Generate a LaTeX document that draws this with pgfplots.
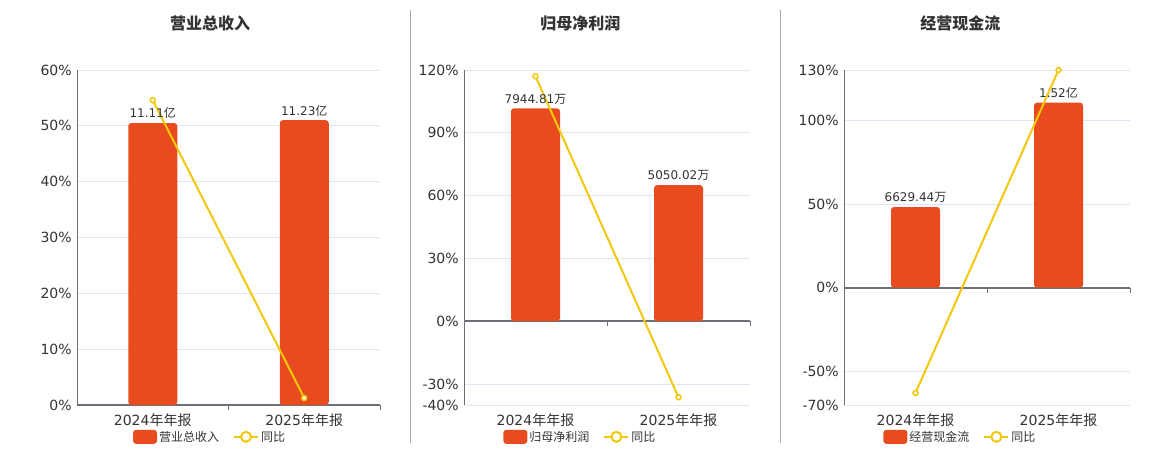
\documentclass[border=0pt]{standalone}
\usepackage{pgfplots}
\pgfplotsset{compat=1.18}
\usepackage{fontspec}
\setmainfont{DejaVu Sans}
\newfontfamily\cjk{Noto Sans CJK SC}
\definecolor{barc}{RGB}{232,76,30}
\definecolor{linec}{RGB}{242,200,12}
\definecolor{axc}{RGB}{110,112,121}
\definecolor{gridc}{RGB}{224,230,241}
\definecolor{txt}{RGB}{51,51,51}
\definecolor{sepc}{RGB}{170,170,170}
\pgfplotsset{
  common/.style={
    scale only axis, height=335bp, anchor=south west,
    xmin=-0.5, xmax=1.5, xtick={0,1},
    axis lines=left, axis line style={-, draw=axc, line width=1bp},
    x axis line style={draw=none},
    tick style={draw=none},
    ymajorgrids, grid style={draw=gridc, line width=0.8bp},
    tick label style={font=\fontsize{14bp}{16bp}\selectfont, text=txt},
    yticklabel style={inner sep=0pt, xshift=-3bp, anchor=east},
    xticklabel style={inner sep=0pt, anchor=north, yshift=-6bp},
    extra y ticks={0}, extra y tick labels={},
    extra y tick style={grid style={draw=axc, line width=2bp}},
    clip=false,
    title style={anchor=center, yshift=41bp, font=\cjk\bfseries\fontsize{16bp}{18bp}\selectfont, text=txt},
    legend style={anchor=center, draw=none, fill=none, legend columns=2,
      font=\cjk\fontsize{12bp}{14bp}\selectfont, text=txt, inner sep=0pt,
      /tikz/every even column/.append style={column sep=12bp}},
    legend cell align=left,
  },
  barsty/.style={ybar, bar width=49bp, fill=barc, draw=none, rounded corners=3bp,
    nodes near coords, point meta=explicit symbolic,
    nodes near coords style={font=\fontsize{12bp}{14bp}\selectfont, text=txt, anchor=south, inner sep=2bp, yshift=2bp},
    legend image code/.code={\fill[barc, rounded corners=3bp] (0bp,-7bp) rectangle (24bp,7bp);}},
  linesty/.style={linec, line width=2bp, sharp plot, mark=*, mark size=2.5bp,
    mark options={fill=white, draw=linec, line width=1.5bp},
    legend image code/.code={\draw[linec, line width=2bp] (0bp,0bp) -- (24bp,0bp);
      \draw[linec, line width=2bp, fill=white] (12bp,0bp) circle (5bp);}},
}
\begin{document}
\begin{tikzpicture}
\path (0,0) rectangle (1160bp,450bp);
\draw[sepc, line width=1bp] (410bp,7bp) -- (410bp,440bp);
\draw[sepc, line width=1bp] (780bp,7bp) -- (780bp,440bp);
% Panel 1
\begin{axis}[common, at={(77bp,45bp)}, width=303bp,
  ymin=0, ymax=60, ytick={0,10,20,30,40,50,60},
  yticklabels={0\%,10\%,20\%,30\%,40\%,50\%,60\%},
  xticklabels={{2024{\cjk 年年报}},{2025{\cjk 年年报}}},
  title={营业总收入}, title style={at={(0.439,1)}},
  legend style={at={(0.439,-0.095)}}]
\addplot[barsty] coordinates {(0,50.5) [11.11{\cjk 亿}] (1,51.0) [11.23{\cjk 亿}]};
\addlegendentry{营业总收入}
\addplot[linesty] coordinates {(0,54.6) (1,1.25)};
\addlegendentry{同比}
\draw[axc, line width=1bp] (axis cs:0.5,0) -- ++(0bp,-5bp);
\draw[axc, line width=1bp] (axis cs:1.5,0) -- ++(0bp,-5bp);
\end{axis}
% Panel 2
\begin{axis}[common, at={(464bp,45bp)}, width=286bp,
  ymin=-40, ymax=120, ytick={-40,-30,0,30,60,90,120},
  yticklabels={-40\%,-30\%,0\%,30\%,60\%,90\%,120\%},
  xticklabels={{2024{\cjk 年年报}},{2025{\cjk 年年报}}},
  title={归母净利润}, title style={at={(0.407,1)}},
  legend style={at={(0.407,-0.095)}}]
\addplot[barsty] coordinates {(0,101.7) [7944.81{\cjk 万}] (1,65.0) [5050.02{\cjk 万}]};
\addlegendentry{归母净利润}
\addplot[linesty] coordinates {(0,117.0) (1,-36.3)};
\addlegendentry{同比}
\draw[axc, line width=1bp] (axis cs:0.5,0) -- ++(0bp,-5bp);
\draw[axc, line width=1bp] (axis cs:1.5,0) -- ++(0bp,-5bp);
\end{axis}
% Panel 3
\begin{axis}[common, at={(844bp,45bp)}, width=286bp,
  ymin=-70, ymax=130, ytick={-70,-50,0,50,100,130},
  yticklabels={-70\%,-50\%,0\%,50\%,100\%,130\%},
  xticklabels={{2024{\cjk 年年报}},{2025{\cjk 年年报}}},
  title={经营现金流}, title style={at={(0.407,1)}},
  legend style={at={(0.407,-0.095)}}]
\addplot[barsty] coordinates {(0,48.2) [6629.44{\cjk 万}] (1,110.5) [1.52{\cjk 亿}]};
\addlegendentry{经营现金流}
\addplot[linesty] coordinates {(0,-62.8) (1,130.0)};
\addlegendentry{同比}
\draw[axc, line width=1bp] (axis cs:0.5,0) -- ++(0bp,-5bp);
\draw[axc, line width=1bp] (axis cs:1.5,0) -- ++(0bp,-5bp);
\end{axis}
\end{tikzpicture}
\end{document}
